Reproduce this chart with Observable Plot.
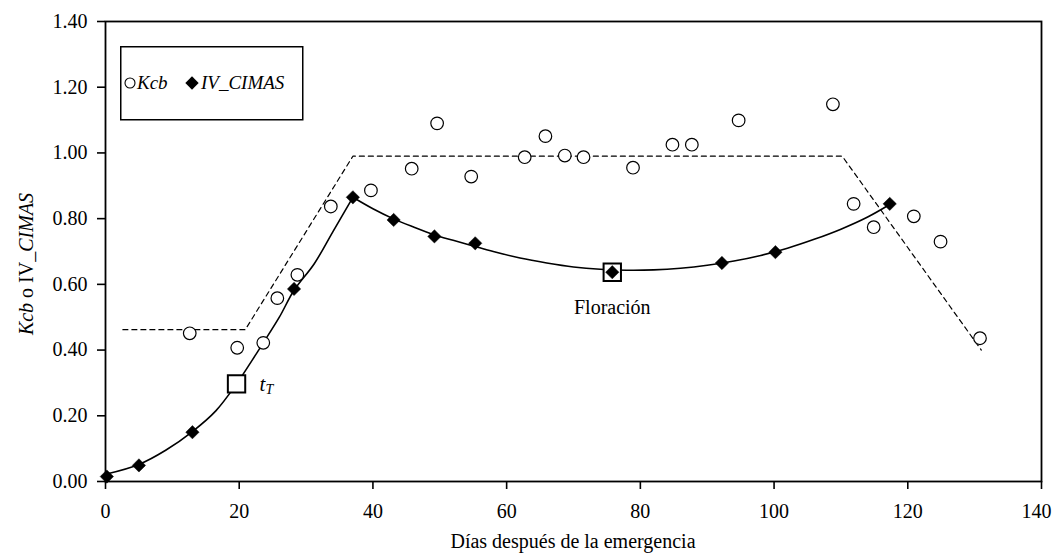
<!DOCTYPE html>
<html><head><meta charset="utf-8">
<script src="https://cdn.jsdelivr.net/npm/d3@7"></script>
<script src="https://cdn.jsdelivr.net/npm/@observablehq/plot@0.6"></script>
<style>
body{margin:0;background:#fff;}
#wrap{position:relative;width:1052px;height:554px;font-family:"Liberation Serif",serif;}
#legend{position:absolute;left:120px;top:46px;}
</style></head><body>
<div id="wrap"><div id="chart"></div><div id="legend"></div></div>
<script>
// Kcb observations (open circles)
const kcbDay = [12.6,19.7,23.6,25.7,28.7,33.7,39.7,45.8,49.6,54.7,62.7,65.8,68.7,71.5,78.9,84.8,87.7,94.7,108.8,111.9,114.9,120.9,124.9,130.8];
const kcbVal = [0.451,0.407,0.422,0.558,0.629,0.837,0.886,0.952,1.090,0.928,0.987,1.051,0.992,0.987,0.955,1.025,1.025,1.099,1.148,0.845,0.774,0.807,0.730,0.436];
// IV_CIMAS observations (filled diamonds)
const ivDay = [0.2,5.0,13.0,28.2,37.0,43.1,49.2,55.3,75.8,92.2,100.2,117.3];
const ivVal = [0.015,0.049,0.150,0.586,0.865,0.796,0.746,0.725,0.637,0.665,0.698,0.845];
// fitted IV_CIMAS curve, rising segment
const riseDay = [0,5,9,13,16.5,19.6,21.9,23.6,26,28.2,31.2,34,37];
const riseVal = [0.022,0.052,0.095,0.152,0.215,0.297,0.368,0.422,0.50,0.582,0.662,0.76,0.865];
// fitted IV_CIMAS curve, falling segment
const fallDay = [37,40,43,46,49,52,55,58,62,66,70,74,78,82,86,90,94,98,102,106,110,114,117.3];
const fallVal = [0.865,0.83,0.80,0.775,0.752,0.734,0.717,0.70,0.680,0.665,0.653,0.646,0.643,0.644,0.649,0.658,0.671,0.688,0.71,0.737,0.768,0.805,0.843];
// FAO Kcb reference curve (dashed)
const refDay = [2.6,20.9,37,110.2,131];
const refVal = [0.462,0.462,0.99,0.99,0.40];
// marked stages
const stageDay = [19.6,75.8];
const stageVal = [0.297,0.637];
const stageName = ["t","Floración"];
// ticks
const xTicks = [0,20,40,60,80,100,120,140];
const yTicks = [0,0.2,0.4,0.6,0.8,1.0,1.2,1.4];

const kcb = kcbDay.map((d,i)=>({d, v:kcbVal[i]}));
const iv = ivDay.map((d,i)=>({d, v:ivVal[i]}));
const fit = riseDay.map((d,i)=>({d, v:riseVal[i], s:"rise"}))
  .concat(fallDay.map((d,i)=>({d, v:fallVal[i], s:"fall"})));
const ref = refDay.map((d,i)=>({d, v:refVal[i]}));
const stages = stageDay.map((d,i)=>({d, v:stageVal[i], name:stageName[i]}));
const xLast = xTicks[xTicks.length-1];

const chart = Plot.plot({
  width:1052, height:554,
  marginLeft:105, marginRight:11, marginTop:21, marginBottom:73,
  style:{fontFamily:"Liberation Serif, serif", fontSize:"20px", color:"#000", background:"#fff"},
  x:{domain:[0,140]},
  y:{domain:[0,1.4]},
  marks:[
    Plot.axisX(xTicks, {tickSize:8, tickFormat:null, strokeWidth:1.6, label:null, text:null}),
    Plot.axisX(xTicks.filter(t=>t!==xLast), {tickSize:0, tickPadding:22, tickFormat:d3.format("d"), label:null}),
    Plot.axisX([xLast], {tickSize:0, tickPadding:22, dx:-5, tickFormat:d3.format("d"), label:null}),
    Plot.axisY(yTicks, {tickSize:8, tickPadding:10, tickFormat:d3.format(".2f"), strokeWidth:1.6, label:null}),
    Plot.frame({stroke:"#000", strokeWidth:1.8}),
    Plot.line(ref, {x:"d", y:"v", stroke:"#000", strokeWidth:1.2, strokeDasharray:"5,4"}),
    Plot.line(fit, {x:"d", y:"v", z:"s", stroke:"#000", strokeWidth:1.6, curve:"catmull-rom"}),
    Plot.dot(kcb, {x:"d", y:"v", r:6.3, stroke:"#000", fill:"#fff", strokeWidth:1.2}),
    Plot.dot(stages, {x:"d", y:"v", symbol:"square", r:9.8, stroke:"#000", fill:"#fff", strokeWidth:2}),
    Plot.dot(iv, {x:"d", y:"v", symbol:"diamond2", r:6, fill:"#000", stroke:"#000", strokeWidth:0.5}),
    Plot.text(stages.filter(s=>s.name==="Floración"), {x:"d", y:"v", text:"name", dy:35, fontSize:20}),
    Plot.text(stages.filter(s=>s.name==="t"), {x:"d", y:"v", text:"name", dx:23, textAnchor:"start", fontStyle:"italic", fontSize:21}),
    Plot.text(stages.filter(s=>s.name==="t"), {x:"d", y:"v", text:()=>"T", dx:29, dy:6, textAnchor:"start", fontStyle:"italic", fontSize:14})
  ]
});
document.getElementById("chart").appendChild(chart);

const svg = d3.select(chart);
const yl = svg.append("text")
  .attr("transform","translate(33,264) rotate(-90)")
  .attr("text-anchor","middle")
  .attr("fill","#000")
  .style("font-size","20px");
yl.append("tspan").attr("font-style","italic").text("Kcb");
yl.append("tspan").text(" o IV");
yl.append("tspan").attr("font-style","italic").text("_CIMAS");
svg.append("text")
  .attr("x",573).attr("y",548)
  .attr("text-anchor","middle")
  .attr("fill","#000")
  .style("font-size","20px")
  .text("Días después de la emergencia");

// legend box
const lg = d3.select("#legend").append("svg").attr("width",184).attr("height",75)
  .style("font-family","Liberation Serif, serif").style("font-size","19px");
lg.append("rect").attr("x",0.75).attr("y",0.75).attr("width",182).attr("height",73)
  .attr("fill","#fff").attr("stroke","#000").attr("stroke-width",1.5);
lg.append("circle").attr("cx",10).attr("cy",37).attr("r",5).attr("fill","#fff").attr("stroke","#000").attr("stroke-width",1.1);
lg.append("text").attr("x",17).attr("y",43).attr("font-style","italic").text("Kcb");
lg.append("path").attr("d",d3.symbol(d3.symbolDiamond2, Math.PI*36)()).attr("transform","translate(72,37)").attr("fill","#000");
lg.append("text").attr("x",81).attr("y",43).attr("font-style","italic").text("IV_CIMAS");
</script>
</body></html>
